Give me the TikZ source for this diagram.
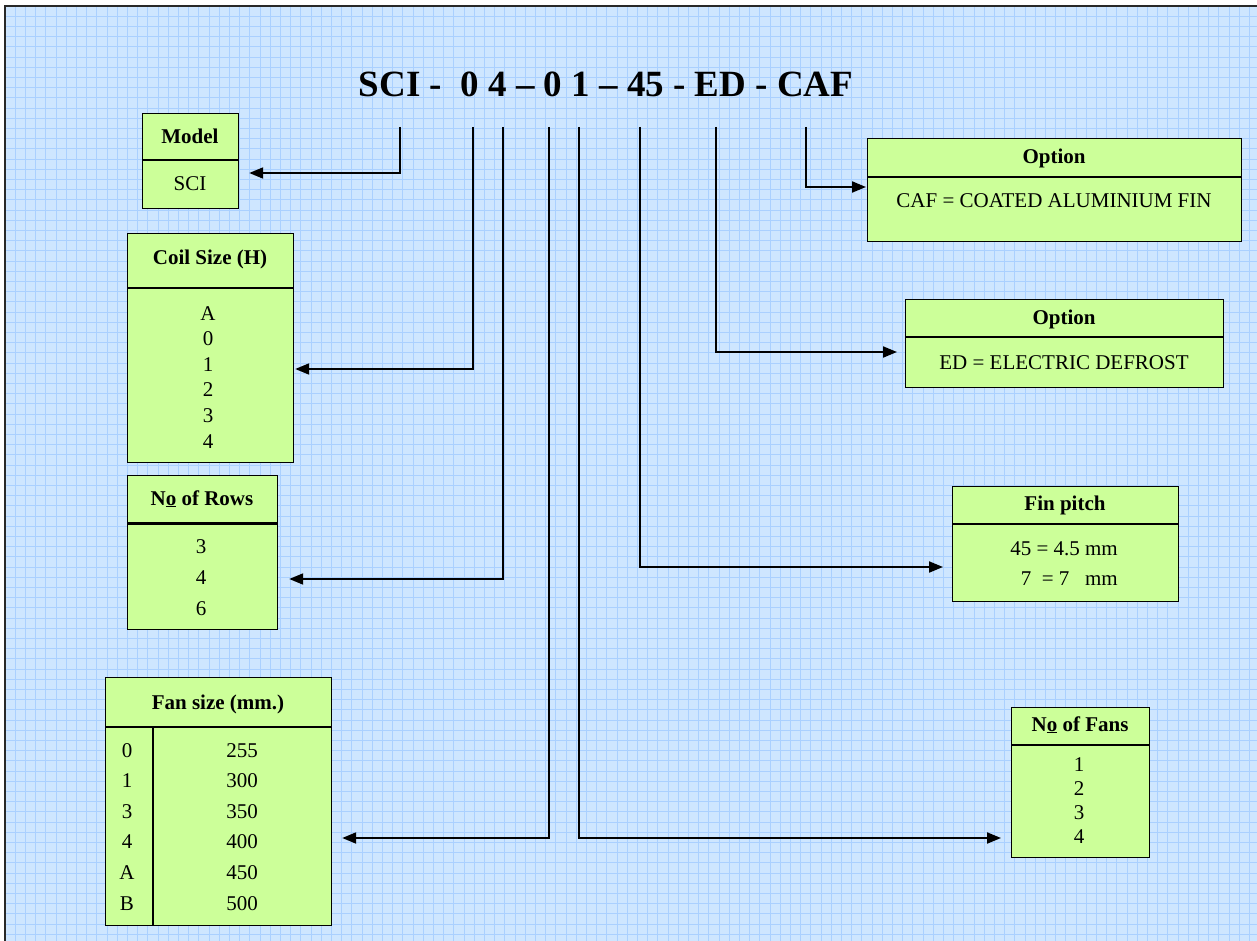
\documentclass[tikz,border=0pt]{standalone}
\usepackage{fontspec}
\setmainfont{Liberation Serif}
\usetikzlibrary{arrows.meta}
\definecolor{paper}{RGB}{206,230,255}
\definecolor{gridc}{RGB}{170,208,255}
\definecolor{boxfill}{RGB}{204,255,153}
\definecolor{frame}{RGB}{40,40,40}
\begin{document}
\begin{tikzpicture}[x=1pt,y=-1pt,
  box/.style={draw=black, line width=1.2pt, fill=boxfill, inner sep=0pt, anchor=north west},
  hd/.style={font=\fontsize{21}{25}\selectfont\bfseries, anchor=base, inner sep=0pt},
  tx/.style={font=\fontsize{21}{25}\selectfont, anchor=base, inner sep=0pt},
  divl/.style={line width=1.2pt},
  arr/.style={line width=2pt, -{Triangle[length=14pt,width=11pt]}},
  gridln/.style={draw=gridc, line width=0.8pt}]
% page, squared paper and frame
\useasboundingbox (0,0) rectangle (1257,941);
\fill[white] (0,0) rectangle (1257,941);
\fill[paper] (5,6) rectangle (1257,941);
\foreach \i in {1,...,123} \draw[gridln] ({5+\i*10.2},6) -- ({5+\i*10.2},941);
\foreach \j in {1,...,92} \draw[gridln] (5,{6+\j*10.2}) -- (1257,{6+\j*10.2});
\draw[frame, line width=2pt] (5,941) -- (5,6) -- (1257,6);

% model code
\node[font=\fontsize{37}{44}\selectfont\bfseries, anchor=base, inner sep=0pt] (code) at (606,97)
  {SCI -\ \ 0 4 – 0 1 – 45 - ED - CAF};
\coordinate (cSCI) at (400,127);
\coordinate (cH)   at (473,127);
\coordinate (cR)   at (503,127);
\coordinate (cFS)  at (549,127);
\coordinate (cNF)  at (579,127);
\coordinate (cFP)  at (640,127);
\coordinate (cED)  at (716,127);
\coordinate (cCAF) at (806,127);

% Model
\node[box, minimum width=96pt, minimum height=95pt] (model) at (142,113) {};
\draw[divl] (model.west |- 0,160) -- (model.east |- 0,160);
\node[hd] at (190,144) {Model};
\node[tx] at (190,191) {SCI};

% Coil size
\node[box, minimum width=166pt, minimum height=229pt] (coil) at (127,233) {};
\draw[divl] (coil.west |- 0,288) -- (coil.east |- 0,288);
\node[hd] at (210,264) {Coil Size (H)};
\foreach \t [count=\k from 0] in {A,0,1,2,3,4}
  \node[tx] at (208,{320+\k*25.6}) {\t};

% Number of rows
\node[box, minimum width=150pt, minimum height=154pt] (rows) at (127,475) {};
\draw[line width=3pt] (rows.west |- 0,523) -- (rows.east |- 0,523);
\node[hd] at (202,505) {N\underline{o} of Rows};
\foreach \t [count=\k from 0] in {3,4,6}
  \node[tx] at (201,{553+\k*31}) {\t};

% Fan size
\node[box, minimum width=226pt, minimum height=248pt] (fan) at (105,677) {};
\draw[divl] (fan.west |- 0,727) -- (fan.east |- 0,727);
\draw[divl] (153,727) -- (fan.south -| 153,0);
\node[hd] at (218,709) {Fan size (mm.)};
\foreach \a/\b [count=\k from 0] in {0/255,1/300,3/350,4/400,A/450,B/500}{
  \node[tx] at (127,{757+\k*30.6}) {\a};
  \node[tx] at (242,{757+\k*30.6}) {\b};
}

% Number of fans
\node[box, minimum width=138pt, minimum height=150pt] (fans) at (1011,707) {};
\draw[divl] (fans.west |- 0,745) -- (fans.east |- 0,745);
\node[hd] at (1080,731) {N\underline{o} of Fans};
\foreach \t [count=\k from 0] in {1,2,3,4}
  \node[tx] at (1079,{771+\k*24.3}) {\t};

% Fin pitch
\node[box, minimum width=226pt, minimum height=115pt] (fin) at (952,486) {};
\draw[divl] (fin.west |- 0,524) -- (fin.east |- 0,524);
\node[hd] at (1065,510) {Fin pitch};
\node[tx, anchor=base east] at (1118,555) {45 = 4.5 mm};
\node[tx, anchor=base east] at (1118,585) {7\ \ = 7\ \ \ mm};

% Option ED
\node[box, minimum width=318pt, minimum height=88pt] (ed) at (905,299) {};
\draw[divl] (ed.west |- 0,337) -- (ed.east |- 0,337);
\node[hd] at (1064,324) {Option};
\node[tx] at (1064,369) {ED = ELECTRIC DEFROST};

% Option CAF
\node[box, minimum width=374pt, minimum height=103pt] (caf) at (867,138) {};
\draw[divl] (caf.west |- 0,177) -- (caf.east |- 0,177);
\node[hd] at (1054,164) {Option};
\node[tx] at (1054,208) {CAF = COATED ALUMINIUM FIN};

% connectors
\draw[arr, shorten >=10pt] (cSCI) |- (model.east |- 0,173);
\draw[arr, shorten >=1pt]  (cH)   |- (coil.east |- 0,369);
\draw[arr, shorten >=11pt] (cR)   |- (rows.east |- 0,579);
\draw[arr, shorten >=10pt] (cFS)  |- (fan.east |- 0,838);
\draw[arr, shorten >=10pt] (cNF)  |- (fans.west |- 0,838);
\draw[arr, shorten >=9pt]  (cFP)  |- (fin.west |- 0,567);
\draw[arr, shorten >=8pt]  (cED)  |- (ed.west |- 0,352);
\draw[arr, shorten >=1pt]  (cCAF) |- (caf.west |- 0,187);
\end{tikzpicture}
\end{document}
